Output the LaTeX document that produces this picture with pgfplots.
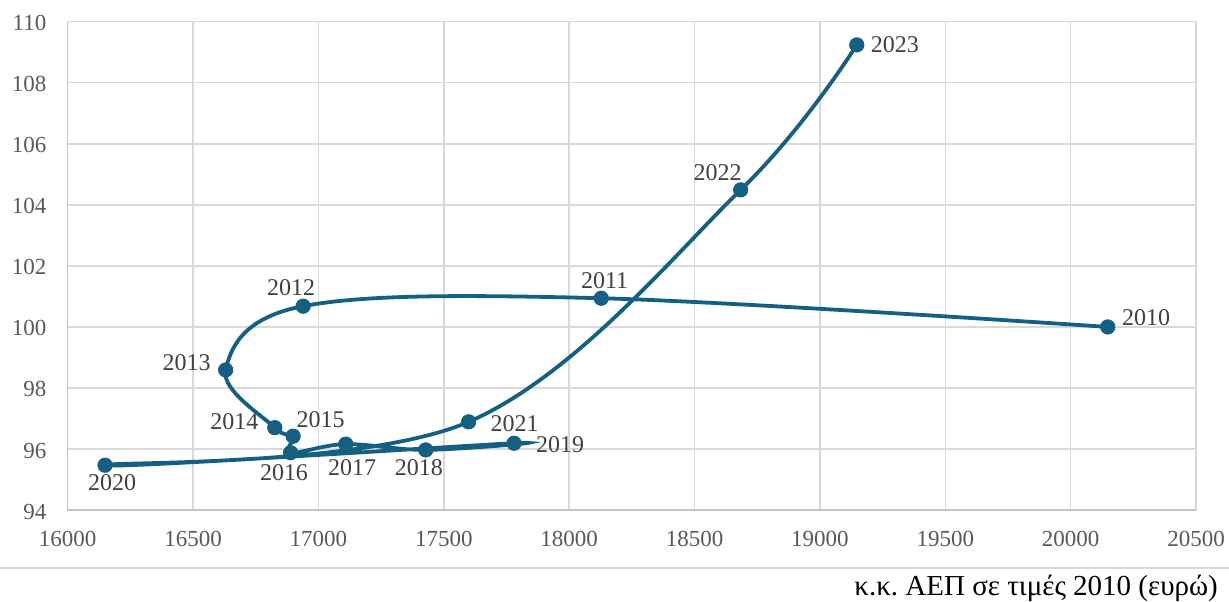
\documentclass[border=0pt]{standalone}
\usepackage{pgfplots}
\pgfplotsset{compat=1.18}
\usepackage{pgfplotstable}
\usepackage{fontspec}
\setmainfont{Liberation Serif}
\definecolor{serie}{RGB}{21,96,130}
\definecolor{gridc}{RGB}{217,217,217}
\definecolor{axc}{RGB}{196,196,196}
\definecolor{tickc}{RGB}{89,89,89}
\definecolor{labc}{RGB}{64,64,64}

\pgfplotstableread{
x y lab dx dy
20148 100.00 2010 19.2 4.8
18128 100.94 2011 1.7 9
16939 100.68 2012 -6 9.5
16630 98.59 2013 -19.5 3.8
16826 96.70 2014 -20.2 3
16899 96.42 2015 13.8 8.3
16889 95.88 2016 -3.3 -10.2
17109 96.16 2017 3.2 -11.5
17428 95.97 2018 -3.4 -8.7
17780 96.19 2019 23.1 -0.7
16149 95.47 2020 3.5 -8.7
17599 96.89 2021 23 -0.8
18684 104.49 2022 -11.5 8.8
19147 109.24 2023 19.1 0.3
}\data

\begin{document}
\frenchspacing
\begin{tikzpicture}
\begin{axis}[
  name=ax, at={(0,0)}, anchor=south west,
  scale only axis, width=564.2pt, height=244.2pt,
  xmin=16000, xmax=20500, ymin=94, ymax=110,
  xtick={16000,16500,...,20500}, ytick={94,96,...,110},
  axis line style={gridc, line width=0.75pt},
  grid=major, grid style={gridc, line width=0.75pt},
  major tick length=0pt, tick style={draw=none},
  tick label style={font=\fontsize{11.5}{12}\selectfont, text=tickc, inner sep=0pt},
  /pgf/number format/assume math mode=true,
  scaled x ticks=false,
  x tick label style={/pgf/number format/1000 sep={}},
  xticklabel style={anchor=base, yshift=-18.3pt},
  yticklabel style={anchor=base east, xshift=-10.5pt, yshift=-4.5pt},
  clip=false,
]
\draw[axc, line width=0.75pt] (rel axis cs:0,1) -- (rel axis cs:0,0) -- (rel axis cs:1,0);
\addplot[serie, line width=1.9pt, smooth, tension=0.6,
  mark=*, mark size=3.6pt, mark options={solid, fill=serie, line width=0.4pt},
  nodes near coords, point meta=explicit symbolic,
  visualization depends on={\thisrow{dx} \as \dx},
  visualization depends on={\thisrow{dy} \as \dy},
  every node near coord/.style={anchor=center, xshift=\dx*1pt, yshift=\dy*1pt,
    font=\fontsize{12}{12}\selectfont, text=labc, inner sep=0pt},
] table[x=x, y=y, meta=lab] {\data};
\end{axis}
\draw[gridc, line width=0.75pt] ([xshift=-33.85pt, yshift=-29pt]ax.south west) -- ([xshift=16.5pt, yshift=-29pt]ax.south east);
\node[anchor=base east, font=\fontsize{14.5}{15}\selectfont, inner sep=0pt] at ([xshift=11.15pt, yshift=-42.5pt]ax.south east) {κ.κ. ΑΕΠ σε τιμές 2010 (ευρώ)};
\pgfresetboundingbox
\path[use as bounding box] ([xshift=-33.85pt, yshift=-45.5pt]ax.south west) rectangle ([xshift=16.5pt, yshift=10.85pt]ax.north east);
\end{tikzpicture}
\end{document}
